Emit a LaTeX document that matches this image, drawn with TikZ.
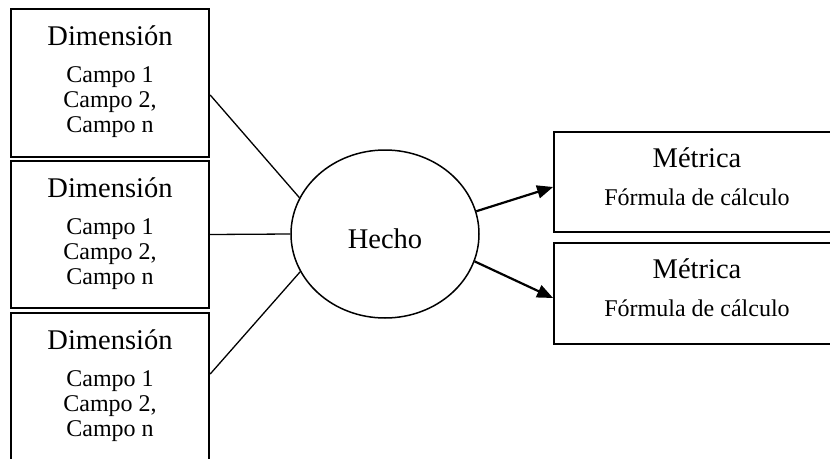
\documentclass[tikz,border=0pt]{standalone}
\usepackage{fontspec}
\setmainfont{Liberation Serif}
\usetikzlibrary{shapes.geometric,arrows.meta}

\tikzset{
  box/.style={draw, line width=1.8pt, rectangle, inner sep=0pt},
  bigtxt/.style={font=\fontsize{28.5}{30}\selectfont, anchor=base, inner sep=0pt},
  smalltxt/.style={font=\fontsize{24}{25}\selectfont, anchor=base, inner sep=0pt},
  link/.style={line width=1.3pt},
  flow/.style={line width=2.2pt, -{Triangle[length=16pt,width=13pt]}},
}

\begin{document}
\begin{tikzpicture}[x=1pt,y=-1pt]
  \useasboundingbox (0,0) rectangle (830,458);
  \clip (0,0) rectangle (830,458);

  % dimension boxes on the left
  \foreach \i/\cy/\h in {1/83/148, 2/234.5/147, 3/387/148} {
    \node[box, minimum width=198.6pt, minimum height=\h pt] (d\i) at (110,\cy) {};
    \node[bigtxt]   (d\i t) at ([yshift=-37.5pt]d\i.north) {Dimensión};
    \node[smalltxt] (d\i a) at ([yshift=-74.5pt]d\i.north) {Campo 1};
    \node[smalltxt] (d\i b) at ([yshift=-99.5pt]d\i.north) {Campo 2,};
    \node[smalltxt] (d\i c) at ([yshift=-124.5pt]d\i.north) {Campo n};
  }

  % fact
  \node[draw, ellipse, line width=1.5pt, minimum width=188pt, minimum height=168pt, inner sep=0pt] (hecho) at (385,234) {};
  \node[bigtxt] (hechot) at (385,248) {Hecho};

  % metric boxes on the right
  \foreach \i/\cy/\h in {1/182/100, 2/293.5/101} {
    \node[box, minimum width=286pt, minimum height=\h pt] (m\i) at (697,\cy) {};
    \node[bigtxt]   (m\i t) at ([yshift=-36.5pt]m\i.north) {Métrica};
    \node[smalltxt] (m\i f) at ([yshift=-74.5pt]m\i.north) {Fórmula de cálculo};
  }

  % connectors
  \draw[link] ([yshift=-12pt]d1.east) -- (hecho.157);
  \draw[link] (d2.east) -- (hecho.west);
  \draw[link] ([yshift=13pt]d3.east) -- (hecho.204);
  \draw[flow] (hecho.14) -- ([yshift=-5pt]m1.west);
  \draw[flow] (hecho.-17) -- ([yshift=-4.5pt]m2.west);
\end{tikzpicture}
\end{document}
